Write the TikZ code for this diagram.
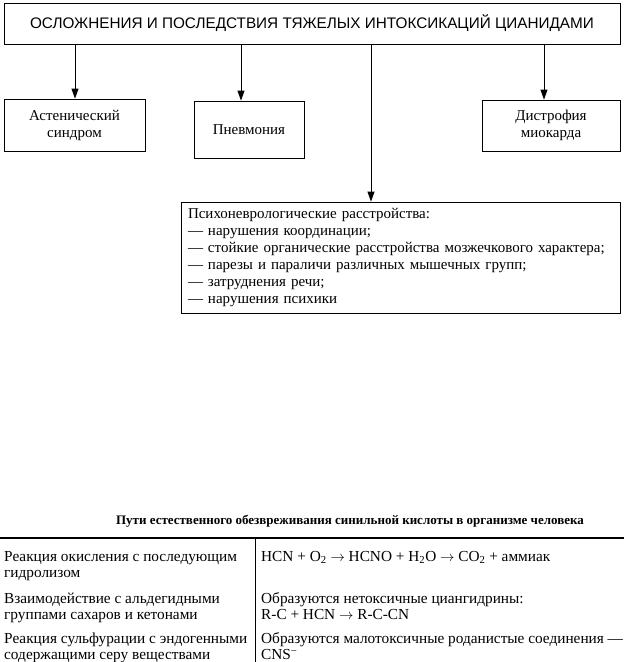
\documentclass[tikz,border=0pt]{standalone}
\usepackage{fontspec}
\setmainfont{Liberation Serif}
\newfontfamily\capsfont{Liberation Sans}
\usepackage{tikz}
\usetikzlibrary{arrows.meta}

\begin{document}
\begin{tikzpicture}[x=1pt, y=-1pt,
    box/.style={draw, line width=0.8pt, align=center, inner sep=2pt,
                font=\fontsize{15}{17}\selectfont},
    arr/.style={-{Triangle[length=10pt, width=7pt]}, line width=0.8pt},
    cell/.style={anchor=base west, align=left, inner sep=0pt,
                 font=\fontsize{15.3}{16.5}\selectfont}]
  \useasboundingbox (0,0) rectangle (624,662);
  % scheme
  \node[box, minimum width=616pt, minimum height=41pt,
        font=\capsfont\fontsize{15.3}{17}\selectfont] (main) at (312,23.5)
       {ОСЛОЖНЕНИЯ И ПОСЛЕДСТВИЯ ТЯЖЕЛЫХ ИНТОКСИКАЦИЙ ЦИАНИДАМИ};
  \node[box, minimum width=141pt, minimum height=52pt] (asth) at (74.5,125)
       {Астенический\\синдром};
  \node[box, minimum width=110pt, minimum height=57pt] (pneu) at (249,129.5)
       {Пневмония};
  \node[box, minimum width=138pt, minimum height=51pt] (dyst) at (551,125.5)
       {Дистрофия\\миокарда};
  \node[box, minimum width=439pt, minimum height=111pt, align=left,
        text width=425pt] (psych) at (400.5,257.5)
       {Психоневрологические расстройства:\\
        --- нарушения координации;\\
        --- стойкие органические расстройства мозжечкового характера;\\
        --- парезы и параличи различных мышечных групп;\\
        --- затруднения речи;\\
        --- нарушения психики};
  \coordinate (x1) at (75,0);
  \coordinate (x2) at (241,0);
  \coordinate (x3) at (371,0);
  \coordinate (x4) at (544,0);
  \draw[arr] (main.south -| x1) -- (asth.north -| x1);
  \draw[arr] (main.south -| x2) -- (pneu.north -| x2);
  \draw[arr] (main.south -| x3) -- (psych.north -| x3);
  \draw[arr] (main.south -| x4) -- (dyst.north -| x4);
  % table (base = last line)
  \node[font=\bfseries\fontsize{13}{15}\selectfont] (ttl) at (350,521)
       {Пути естественного обезвреживания синильной кислоты в организме человека};
  \coordinate (tl) at (0,538);
  \coordinate (tr) at (624,538);
  \coordinate (mid) at (255,538);
  \coordinate (bot) at (255,662);
  \draw[line width=1.1pt] (tl) -- (tr);
  \draw[line width=0.8pt] (mid) -- (bot);
  \node[cell] (r1a) at (4,577.5) {Реакция окисления с последующим\\гидролизом};
  \node[cell] (r1b) at (261,561)
       {HCN + O\textsubscript{2} $\rightarrow$ HCNO + H\textsubscript{2}O $\rightarrow$ CO\textsubscript{2} + аммиак};
  \node[cell] (r2a) at (4,619.5) {Взаимодействие с альдегидными\\группами сахаров и кетонами};
  \node[cell] (r2b) at (261,619.5)
       {Образуются нетоксичные циангидрины:\\R-C + HCN $\rightarrow$ R-C-CN};
  \node[cell] (r3a) at (4,659.5) {Реакция сульфурации с эндогенными\\содержащими серу веществами};
  \node[cell] (r3b) at (261,659.5)
       {Образуются малотоксичные роданистые соединения ---\\CNS\textsuperscript{−}};
\end{tikzpicture}
\end{document}
